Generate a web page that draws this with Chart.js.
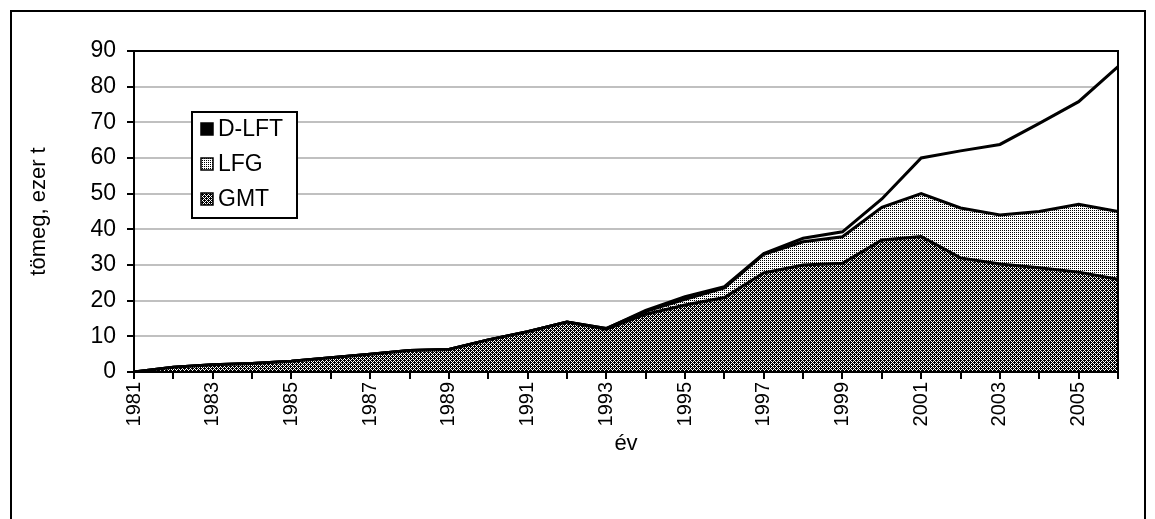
<!DOCTYPE html>
<html>
<head>
<meta charset="utf-8">
<script src="https://cdn.jsdelivr.net/npm/chart.js@4.4.1/dist/chart.umd.min.js"></script>
<style>
  html, body { margin: 0; padding: 0; background: #fff; }
  #wrap { width: 1155px; height: 519px; position: relative; }
</style>
</head>
<body>
<div id="wrap"><canvas id="c" width="1155" height="519"></canvas></div>
<script>
// ---- data ----
const years = ['1981','1982','1983','1984','1985','1986','1987','1988','1989','1990','1991','1992','1993',
               '1994','1995','1996','1997','1998','1999','2000','2001','2002','2003','2004','2005','2006'];
const gmt  = [0, 1.3, 2, 2.4, 3, 4, 5, 6, 6.3, 9, 11.3, 14, 12, 16.2, 18.8, 20.9, 27.8, 30, 30.5, 37, 38, 32, 30.3, 29.2, 28, 26];
const lfg  = [0, 0, 0, 0, 0, 0, 0, 0, 0, 0, 0, 0, 0.2, 0.8, 1.6, 2.7, 5.2, 6.5, 7.4, 9.2, 12, 14, 13.7, 15.8, 19, 19];
const dlft = [0, 0, 0, 0, 0, 0, 0, 0, 0, 0, 0, 0, 0, 0.3, 0.7, 0.3, 0.2, 1, 1.4, 2.3, 10, 16, 19.8, 24.7, 28.8, 40.6];
const seriesLabels = ['GMT', 'LFG', 'D-LFT'];
const yTicks = [0, 10, 20, 30, 40, 50, 60, 70, 80, 90];
const xTitle = 'év';
const yTitle = 'tömeg, ezer t';

// ---- patterns ----
function makePattern(size, draw) {
  const c = document.createElement('canvas');
  c.width = size; c.height = size;
  const g = c.getContext('2d');
  g.fillStyle = '#fff'; g.fillRect(0, 0, size, size);
  g.fillStyle = '#000';
  draw(g);
  return document.getElementById('c').getContext('2d').createPattern(c, 'repeat');
}
const gmtPattern = makePattern(4, g => {
  for (let y = 0; y < 4; y++) for (let x = 0; x < 4; x++) {
    if ((x + y) % 2 === 1 || (x === 0 && y === 0) || (x === 2 && y === 2)) g.fillRect(x, y, 1, 1);
  }
});
const lfgPattern = makePattern(2, g => { g.fillRect(0, 0, 1, 1); });
const legendFills = { 'GMT': gmtPattern, 'LFG': lfgPattern, 'D-LFT': '#000' };

const FONT = "'Liberation Sans', Arial, sans-serif";
Chart.defaults.font.family = FONT;
Chart.defaults.font.size = 23;
Chart.defaults.color = '#000';

const framePlugin = {
  id: 'frame',
  beforeDraw(chart) {
    const ctx = chart.ctx;
    ctx.save();
    ctx.fillStyle = '#fff';
    ctx.fillRect(0, 0, chart.width, chart.height);
    ctx.restore();
  },
  afterDraw(chart) {
    const ctx = chart.ctx;
    const a = chart.chartArea;
    ctx.save();
    ctx.strokeStyle = '#000';
    ctx.lineWidth = 2;
    ctx.strokeRect(a.left, a.top, a.right - a.left, a.bottom - a.top);
    ctx.strokeRect(11, 11, 1134, 530);
    // legend
    const lx = 192, ly = 112, lw = 105, lh = 106;
    ctx.fillStyle = '#fff';
    ctx.fillRect(lx, ly, lw, lh);
    ctx.strokeRect(lx, ly, lw, lh);
    const items = chart.data.datasets.map(d => d.label).reverse();
    ctx.font = '23px ' + FONT;
    ctx.textBaseline = 'middle';
    ctx.textAlign = 'left';
    items.forEach((lab, i) => {
      const cy = 129 + i * 35;
      ctx.fillStyle = legendFills[lab];
      ctx.fillRect(201, cy - 6, 12, 12);
      ctx.lineWidth = 1.5;
      ctx.strokeStyle = '#000';
      ctx.strokeRect(201, cy - 6, 12, 12);
      ctx.fillStyle = '#000';
      ctx.fillText(lab, 218, cy + 1);
    });
    ctx.restore();
  }
};

const common = { borderColor: '#000', borderWidth: 3, pointRadius: 0, tension: 0 };

new Chart(document.getElementById('c'), {
  type: 'line',
  data: {
    labels: years,
    datasets: [
      Object.assign({ label: seriesLabels[0], data: gmt, fill: 'origin', backgroundColor: gmtPattern }, common),
      Object.assign({ label: seriesLabels[1], data: lfg, fill: '-1', backgroundColor: lfgPattern }, common),
      Object.assign({ label: seriesLabels[2], data: dlft, fill: '-1', backgroundColor: '#fff' }, common)
    ]
  },
  options: {
    responsive: false,
    animation: false,
    layout: { padding: { left: 22, top: 51, right: 37, bottom: 58 } },
    plugins: { legend: { display: false }, tooltip: { enabled: false } },
    scales: {
      x: {
        offset: false,
        grid: { display: true, drawOnChartArea: false, drawTicks: true, tickLength: 7, tickColor: '#000', lineWidth: 2 },
        border: { color: '#000', width: 2 },
        ticks: {
          autoSkip: false, minRotation: 90, maxRotation: 90, padding: 3, font: { size: 20 },
          callback: function(v, i) { return i % 2 === 0 ? this.getLabelForValue(v) : ''; }
        },
        title: { display: true, text: xTitle, font: { size: 22 } },
        afterFit(s) { s.height = 89; }
      },
      y: {
        stacked: true,
        min: 0, max: 90,
        afterBuildTicks(s) { s.ticks = yTicks.map(v => ({ value: v })); },
        grid: { color: '#c0c0c0', lineWidth: 2, tickLength: 7, tickColor: '#000' },
        border: { color: '#000', width: 2 },
        ticks: { padding: 11 },
        title: { display: true, text: yTitle, font: { size: 22 } },
        afterFit(s) { s.width = 112; }
      }
    }
  },
  plugins: [framePlugin]
});
</script>
</body>
</html>
